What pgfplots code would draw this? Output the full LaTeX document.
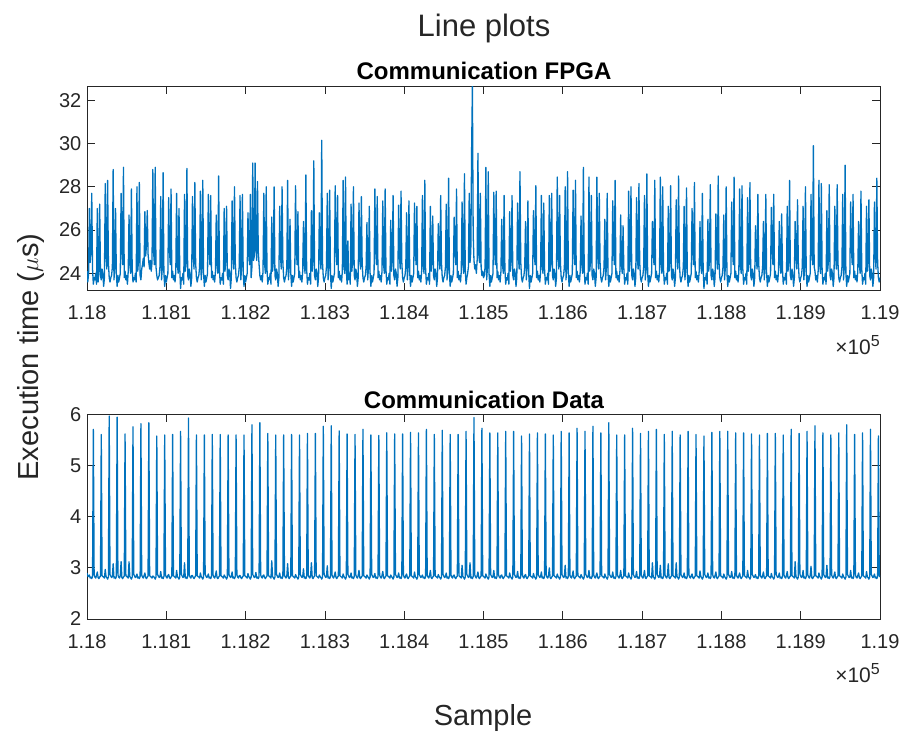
\documentclass[border=0pt]{standalone}
\usepackage{fontspec}
\setmainfont{Liberation Sans}
\usepackage{pgfplots}
\pgfplotsset{compat=1.18}
\usepackage{pgfplotstable}
\definecolor{mblue}{RGB}{0,114,189}
\definecolor{axgray}{RGB}{38,38,38}

% Communication FPGA: one value per sample, samples 118000..119000
\pgfplotstableread[row sep=\\,header=false]{
24.1\\23.6\\24.0\\27.0\\24.5\\25.0\\27.7\\24.2\\23.5\\23.8\\
23.7\\24.0\\23.5\\27.0\\23.6\\24.1\\27.2\\23.9\\23.7\\24.2\\
24.0\\23.4\\23.8\\28.15\\24.8\\24.2\\28.3\\24.5\\23.8\\23.6\\
23.8\\23.9\\24.3\\28.8\\23.7\\24.3\\27.0\\24.0\\23.4\\23.9\\
23.6\\23.8\\24.0\\27.7\\25.1\\24.4\\28.9\\23.8\\24.1\\23.7\\
23.9\\23.5\\24.1\\26.7\\24.4\\24.0\\27.9\\24.2\\23.6\\23.8\\
23.7\\24.0\\23.6\\28.0\\24.1\\24.6\\28.2\\23.9\\23.7\\24.2\\
24.4\\24.7\\24.3\\26.85\\24.8\\25.3\\26.9\\24.9\\24.5\\24.2\\
24.6\\24.1\\24.5\\28.8\\25.0\\24.4\\28.9\\24.3\\23.9\\23.7\\
23.8\\23.9\\24.3\\27.55\\23.7\\24.3\\28.65\\24.0\\23.4\\23.9\\
23.6\\23.8\\24.0\\27.5\\25.1\\24.4\\27.9\\23.8\\24.1\\23.7\\
23.9\\23.6\\24.1\\27.7\\24.4\\24.0\\27.0\\24.2\\23.3\\23.8\\
23.7\\24.0\\23.5\\27.65\\24.1\\24.6\\28.85\\23.9\\23.7\\24.2\\
24.0\\23.4\\23.8\\27.55\\24.8\\24.2\\28.2\\24.5\\23.8\\23.6\\
23.8\\23.9\\24.3\\27.8\\23.7\\24.3\\28.3\\24.0\\23.4\\23.9\\
23.6\\23.8\\24.0\\27.65\\25.1\\24.4\\27.6\\23.8\\24.1\\23.7\\
23.9\\23.6\\24.1\\26.7\\24.4\\24.0\\28.5\\24.2\\23.5\\23.8\\
23.7\\24.0\\23.5\\27.0\\24.1\\24.6\\27.1\\23.9\\23.7\\24.2\\
24.0\\23.3\\23.8\\27.35\\24.8\\24.2\\28.0\\24.5\\23.8\\23.6\\
23.8\\23.9\\24.3\\27.6\\23.7\\24.3\\27.65\\24.0\\23.4\\23.9\\
23.6\\23.8\\24.0\\26.8\\25.1\\24.4\\27.65\\23.8\\24.3\\29.1\\
24.6\\24.8\\29.1\\25.2\\24.6\\28.25\\25.0\\24.4\\23.9\\23.7\\
23.9\\23.6\\24.1\\27.7\\24.4\\24.0\\28.0\\24.2\\23.5\\23.8\\
23.7\\24.0\\23.5\\26.6\\24.1\\24.6\\28.0\\23.9\\23.7\\24.2\\
24.0\\23.4\\23.8\\27.1\\24.8\\24.2\\28.0\\24.5\\23.8\\23.6\\
23.8\\23.9\\24.3\\28.3\\23.7\\24.3\\26.5\\24.0\\23.4\\23.9\\
23.6\\23.8\\24.0\\28.05\\25.1\\24.4\\26.85\\23.8\\24.1\\23.7\\
23.9\\23.6\\24.1\\26.4\\24.4\\24.0\\28.55\\24.2\\23.5\\23.8\\
23.7\\24.0\\23.5\\26.9\\24.1\\24.6\\29.2\\23.9\\23.7\\24.2\\
24.0\\23.4\\23.8\\26.8\\24.8\\24.2\\30.15\\24.5\\23.8\\23.6\\
23.8\\23.9\\24.3\\27.7\\23.7\\24.3\\27.85\\24.0\\23.3\\23.9\\
23.6\\23.8\\24.0\\28.05\\25.1\\24.4\\27.6\\23.8\\24.1\\23.7\\
23.9\\23.6\\24.1\\28.3\\24.4\\24.0\\28.45\\24.2\\23.5\\25.5\\
23.7\\24.0\\23.5\\27.2\\24.1\\24.6\\28.0\\23.9\\23.7\\24.2\\
24.0\\23.4\\23.8\\27.25\\24.8\\24.2\\27.55\\24.5\\23.8\\23.6\\
23.8\\23.9\\24.3\\26.35\\23.7\\24.3\\27.1\\24.0\\23.4\\23.9\\
23.6\\23.8\\24.0\\27.9\\25.1\\24.4\\27.55\\23.8\\24.1\\23.7\\
23.9\\23.6\\24.1\\27.35\\24.4\\24.0\\27.9\\24.2\\23.5\\23.8\\
23.7\\24.0\\23.5\\26.45\\24.1\\24.6\\27.6\\23.9\\23.7\\24.2\\
24.0\\23.4\\23.8\\27.15\\24.8\\24.2\\27.8\\24.5\\23.8\\23.6\\
23.8\\23.9\\24.3\\26.8\\23.7\\24.3\\27.35\\24.0\\23.4\\23.9\\
23.6\\23.8\\24.0\\27.25\\25.1\\24.4\\27.1\\23.8\\24.1\\23.7\\
23.9\\23.6\\24.1\\27.6\\24.4\\24.0\\28.3\\24.2\\23.5\\23.8\\
23.7\\24.0\\23.5\\27.1\\24.1\\24.6\\26.65\\23.9\\23.7\\24.2\\
24.0\\23.4\\23.8\\26.3\\24.8\\24.2\\27.6\\24.5\\23.8\\23.6\\
23.8\\23.9\\24.3\\27.2\\23.7\\24.3\\28.4\\24.0\\23.4\\23.9\\
23.6\\23.8\\24.0\\26.6\\25.1\\24.4\\27.9\\23.8\\24.1\\23.7\\
23.9\\23.6\\24.1\\27.3\\24.4\\24.0\\28.6\\24.2\\23.5\\23.8\\
24.0\\24.3\\27.7\\24.5\\25.0\\29.65\\32.65\\25.8\\24.6\\24.2\\
24.4\\24.0\\24.6\\29.55\\24.9\\24.5\\27.7\\24.3\\23.9\\24.1\\
23.8\\23.9\\24.3\\28.9\\23.7\\24.3\\28.7\\24.0\\23.4\\23.9\\
23.6\\23.8\\24.0\\27.75\\25.1\\24.4\\27.8\\23.8\\24.1\\23.7\\
23.9\\23.6\\24.1\\26.5\\24.4\\24.0\\27.6\\24.2\\23.5\\23.8\\
23.7\\24.0\\23.5\\26.85\\24.1\\24.6\\27.6\\23.9\\23.7\\24.2\\
24.0\\23.4\\23.8\\27.25\\24.8\\24.2\\28.7\\24.5\\23.8\\23.6\\
23.8\\23.9\\24.3\\26.4\\23.7\\24.3\\27.35\\24.0\\23.3\\23.9\\
23.6\\23.8\\24.0\\26.9\\25.1\\24.4\\28.05\\23.8\\24.1\\23.7\\
23.9\\23.6\\24.1\\27.6\\24.4\\24.0\\27.25\\24.2\\23.5\\23.8\\
23.7\\24.0\\23.5\\27.6\\24.1\\24.6\\27.7\\23.9\\23.7\\24.2\\
24.0\\23.4\\23.8\\28.45\\24.8\\24.2\\27.6\\24.5\\23.8\\23.6\\
23.8\\23.9\\24.3\\28.0\\23.7\\24.3\\28.7\\24.0\\23.4\\23.9\\
23.6\\23.8\\24.0\\27.85\\25.1\\24.4\\28.3\\23.8\\24.1\\23.7\\
23.9\\23.6\\24.1\\26.65\\24.4\\24.0\\28.9\\24.2\\23.5\\23.8\\
23.7\\24.0\\23.5\\28.45\\24.1\\24.6\\27.6\\23.9\\23.7\\24.2\\
24.0\\23.4\\23.8\\28.45\\24.8\\24.2\\27.7\\24.5\\23.8\\23.6\\
23.8\\23.9\\24.3\\26.5\\23.7\\24.3\\27.7\\24.0\\23.4\\23.9\\
23.6\\23.8\\24.0\\27.35\\25.1\\24.4\\28.3\\23.8\\24.1\\23.7\\
23.9\\23.6\\24.1\\26.7\\24.4\\24.0\\26.2\\24.2\\23.5\\23.8\\
23.7\\24.0\\23.5\\27.8\\24.1\\24.6\\28.0\\23.9\\23.7\\24.2\\
24.0\\23.4\\23.8\\27.5\\24.8\\24.2\\28.15\\24.5\\23.8\\23.6\\
23.8\\23.9\\24.3\\27.6\\23.7\\24.3\\28.6\\24.0\\23.4\\23.9\\
23.6\\23.8\\24.0\\26.4\\25.1\\24.4\\28.3\\23.8\\24.1\\23.7\\
23.9\\23.6\\24.1\\28.45\\24.4\\24.0\\28.0\\24.2\\23.5\\23.8\\
23.7\\24.0\\23.5\\27.1\\24.1\\24.6\\28.05\\23.9\\23.7\\24.2\\
24.0\\23.4\\23.8\\27.4\\24.8\\24.2\\28.5\\24.5\\23.8\\23.6\\
23.8\\23.9\\24.3\\27.1\\23.7\\24.3\\27.95\\24.0\\23.4\\23.9\\
23.6\\23.8\\24.0\\27.0\\25.1\\24.4\\28.2\\23.8\\24.1\\23.7\\
23.9\\23.6\\24.1\\26.4\\24.4\\24.0\\27.7\\24.2\\23.3\\23.8\\
23.7\\24.0\\23.5\\26.5\\24.1\\24.6\\28.1\\23.9\\23.7\\24.2\\
24.0\\23.4\\23.8\\26.75\\24.8\\24.2\\28.5\\24.5\\23.8\\23.6\\
23.8\\23.9\\24.3\\26.7\\23.7\\24.3\\28.0\\24.0\\23.4\\23.9\\
23.6\\23.8\\24.0\\27.3\\25.1\\24.4\\28.45\\23.8\\24.1\\23.7\\
23.9\\23.6\\24.1\\27.9\\24.4\\24.0\\28.05\\24.2\\23.5\\23.8\\
23.7\\24.0\\23.5\\27.5\\24.1\\24.6\\28.2\\23.9\\23.7\\24.2\\
24.0\\23.4\\23.8\\26.2\\24.8\\24.2\\27.65\\24.5\\23.8\\23.6\\
23.8\\23.9\\24.3\\26.4\\23.7\\24.3\\27.65\\24.0\\23.4\\23.9\\
23.6\\23.8\\24.0\\27.05\\25.1\\24.4\\27.65\\23.8\\24.1\\23.7\\
23.9\\23.6\\24.1\\26.4\\24.4\\24.0\\26.75\\24.2\\23.5\\23.8\\
23.7\\24.0\\23.5\\27.1\\24.1\\24.6\\28.3\\23.9\\23.7\\24.2\\
24.0\\23.4\\23.8\\26.4\\24.8\\24.2\\27.4\\24.5\\23.8\\23.6\\
23.8\\23.9\\24.3\\27.1\\23.7\\24.3\\28.0\\24.0\\23.4\\23.9\\
23.6\\23.8\\24.0\\27.65\\25.1\\24.4\\29.9\\24.3\\24.1\\23.7\\
23.9\\23.6\\24.1\\28.3\\24.4\\24.0\\28.15\\24.2\\23.5\\23.8\\
23.7\\24.0\\23.5\\26.9\\24.1\\24.6\\28.1\\23.9\\23.7\\24.2\\
24.0\\23.4\\23.8\\27.1\\24.8\\24.2\\28.1\\24.5\\23.8\\23.6\\
23.8\\23.9\\24.3\\27.65\\23.7\\24.3\\29.0\\24.0\\23.4\\23.9\\
23.6\\23.8\\24.0\\27.3\\25.1\\24.4\\27.65\\23.8\\24.1\\23.7\\
23.9\\23.6\\24.1\\26.4\\24.4\\24.0\\27.8\\24.2\\23.5\\23.8\\
23.7\\24.0\\23.5\\27.1\\24.1\\24.6\\27.4\\23.9\\23.7\\24.2\\
24.0\\23.4\\23.8\\27.3\\24.8\\24.2\\28.4\\24.5\\23.8\\23.6\\
23.8\\
}\fpgadata

% Communication Data: one value per sample, samples 118000..119000
\pgfplotstableread[row sep=\\,header=false]{
2.90\\2.84\\2.83\\2.86\\2.80\\2.82\\2.79\\2.83\\5.71\\2.86\\
2.82\\2.80\\2.85\\2.92\\2.81\\2.79\\2.82\\2.84\\5.61\\2.85\\
2.83\\2.82\\2.80\\2.97\\2.83\\2.81\\2.78\\2.82\\5.97\\2.87\\
2.84\\2.81\\2.83\\3.08\\2.80\\2.82\\2.79\\2.83\\5.95\\2.86\\
2.82\\2.80\\2.85\\3.12\\2.81\\2.79\\2.82\\2.84\\5.62\\2.85\\
2.83\\2.82\\2.80\\3.12\\2.83\\2.81\\2.78\\2.82\\5.76\\2.87\\
2.84\\2.81\\2.83\\2.88\\2.80\\2.82\\2.79\\2.83\\5.82\\2.86\\
2.82\\2.80\\2.85\\2.90\\2.81\\2.79\\2.82\\2.84\\5.84\\2.85\\
2.83\\2.82\\2.80\\2.84\\2.83\\2.81\\2.78\\2.82\\5.58\\2.87\\
2.84\\2.81\\2.83\\2.93\\2.80\\2.82\\2.79\\2.83\\5.60\\2.86\\
2.82\\2.80\\2.85\\2.87\\2.81\\2.79\\2.82\\2.84\\5.61\\2.85\\
2.83\\2.82\\2.80\\2.95\\2.83\\2.81\\2.78\\2.82\\5.67\\2.87\\
2.84\\2.81\\2.83\\3.10\\2.80\\2.82\\2.79\\2.83\\5.93\\2.86\\
2.82\\2.80\\2.85\\2.85\\2.81\\2.79\\2.82\\2.84\\5.60\\2.85\\
2.83\\2.82\\2.80\\2.90\\2.83\\2.81\\2.78\\2.82\\5.60\\2.87\\
2.84\\2.81\\2.83\\2.88\\2.80\\2.82\\2.79\\2.83\\5.61\\2.86\\
2.82\\2.80\\2.85\\2.94\\2.81\\2.79\\2.82\\2.84\\5.61\\2.85\\
2.83\\2.82\\2.80\\2.86\\2.83\\2.81\\2.78\\2.82\\5.60\\2.87\\
2.84\\2.81\\2.83\\2.92\\2.80\\2.82\\2.79\\2.83\\5.60\\2.86\\
2.82\\2.80\\2.85\\2.85\\2.81\\2.79\\2.82\\2.84\\5.60\\2.85\\
2.83\\2.82\\2.80\\2.89\\2.83\\2.81\\2.78\\2.82\\5.80\\2.87\\
2.84\\2.81\\2.83\\2.91\\2.80\\2.82\\2.79\\2.83\\5.84\\2.86\\
2.82\\2.80\\2.85\\2.86\\2.81\\2.79\\2.82\\2.84\\5.63\\2.85\\
2.83\\2.82\\2.80\\3.14\\2.83\\2.81\\2.78\\2.82\\5.60\\2.87\\
2.84\\2.81\\2.83\\2.90\\2.80\\2.82\\2.79\\2.83\\5.60\\2.86\\
2.82\\2.80\\2.85\\3.08\\2.81\\2.79\\2.82\\2.84\\5.61\\2.85\\
2.83\\2.82\\2.80\\2.87\\2.83\\2.81\\2.78\\2.82\\5.60\\2.87\\
2.84\\2.81\\2.83\\2.98\\2.80\\2.82\\2.79\\2.83\\5.63\\2.86\\
2.82\\2.80\\2.85\\3.10\\2.81\\2.79\\2.82\\2.84\\5.63\\2.85\\
2.83\\2.82\\2.80\\2.86\\2.83\\2.81\\2.78\\2.82\\5.77\\2.87\\
2.84\\2.81\\2.83\\3.04\\2.80\\2.82\\2.79\\2.83\\5.78\\2.86\\
2.82\\2.80\\2.85\\2.92\\2.81\\2.79\\2.82\\2.84\\5.68\\2.85\\
2.83\\2.82\\2.80\\2.88\\2.83\\2.81\\2.78\\2.82\\5.62\\2.87\\
2.84\\2.81\\2.83\\2.90\\2.80\\2.82\\2.79\\2.83\\5.61\\2.86\\
2.82\\2.80\\2.85\\2.95\\2.81\\2.79\\2.82\\2.84\\5.71\\2.85\\
2.83\\2.82\\2.80\\2.86\\2.83\\2.81\\2.78\\2.82\\5.60\\2.87\\
2.84\\2.81\\2.83\\2.89\\2.80\\2.82\\2.79\\2.83\\5.59\\2.86\\
2.82\\2.80\\2.85\\2.93\\2.81\\2.79\\2.82\\2.84\\5.64\\2.85\\
2.83\\2.82\\2.80\\2.86\\2.83\\2.81\\2.78\\2.82\\5.62\\2.87\\
2.84\\2.81\\2.83\\2.90\\2.80\\2.82\\2.79\\2.83\\5.62\\2.86\\
2.82\\2.80\\2.85\\2.88\\2.81\\2.79\\2.82\\2.84\\5.65\\2.85\\
2.83\\2.82\\2.80\\2.92\\2.83\\2.81\\2.78\\2.82\\5.64\\2.87\\
2.84\\2.81\\2.83\\2.86\\2.80\\2.82\\2.79\\2.83\\5.71\\2.86\\
2.82\\2.80\\2.85\\2.95\\2.81\\2.79\\2.82\\2.84\\5.61\\2.85\\
2.83\\2.82\\2.80\\2.87\\2.83\\2.81\\2.78\\2.82\\5.69\\2.87\\
2.84\\2.81\\2.83\\2.90\\2.80\\2.82\\2.79\\2.83\\5.61\\2.86\\
2.82\\2.80\\2.85\\2.86\\2.81\\2.79\\2.82\\2.84\\5.61\\2.85\\
2.83\\2.82\\2.80\\3.05\\2.83\\2.81\\2.78\\2.82\\5.67\\2.87\\
2.84\\2.81\\2.83\\3.10\\2.80\\2.82\\2.79\\2.83\\5.94\\2.86\\
2.82\\2.80\\2.85\\2.92\\2.81\\2.79\\2.82\\2.84\\5.73\\2.85\\
2.83\\2.82\\2.80\\2.88\\2.83\\2.81\\2.78\\2.82\\5.64\\2.87\\
2.84\\2.81\\2.83\\2.95\\2.80\\2.82\\2.79\\2.83\\5.64\\2.86\\
2.82\\2.80\\2.85\\2.86\\2.81\\2.79\\2.82\\2.84\\5.67\\2.85\\
2.83\\2.82\\2.80\\2.90\\2.83\\2.81\\2.78\\2.82\\5.67\\2.87\\
2.84\\2.81\\2.83\\2.93\\2.80\\2.82\\2.79\\2.83\\5.58\\2.86\\
2.82\\2.80\\2.85\\2.87\\2.81\\2.79\\2.82\\2.84\\5.62\\2.85\\
2.83\\2.82\\2.80\\2.89\\2.83\\2.81\\2.78\\2.82\\5.64\\2.87\\
2.84\\2.81\\2.83\\2.92\\2.80\\2.82\\2.79\\2.83\\5.62\\2.86\\
2.82\\2.80\\2.85\\3.00\\2.81\\2.79\\2.82\\2.84\\5.60\\2.85\\
2.83\\2.82\\2.80\\2.88\\2.83\\2.81\\2.78\\2.82\\5.67\\2.87\\
2.84\\2.81\\2.83\\3.05\\2.80\\2.82\\2.79\\2.83\\5.64\\2.86\\
2.82\\2.80\\2.85\\2.94\\2.81\\2.79\\2.82\\2.84\\5.73\\2.85\\
2.83\\2.82\\2.80\\2.87\\2.83\\2.81\\2.78\\2.82\\5.67\\2.87\\
2.84\\2.81\\2.83\\2.95\\2.80\\2.82\\2.79\\2.83\\5.77\\2.86\\
2.82\\2.80\\2.85\\2.90\\2.81\\2.79\\2.82\\2.84\\5.64\\2.85\\
2.83\\2.82\\2.80\\2.88\\2.83\\2.81\\2.78\\2.82\\5.84\\2.87\\
2.84\\2.81\\2.83\\2.92\\2.80\\2.82\\2.79\\2.83\\5.60\\2.86\\
2.82\\2.80\\2.85\\2.95\\2.81\\2.79\\2.82\\2.84\\5.60\\2.85\\
2.83\\2.82\\2.80\\2.90\\2.83\\2.81\\2.78\\2.82\\5.73\\2.87\\
2.84\\2.81\\2.83\\2.93\\2.80\\2.82\\2.79\\2.83\\5.63\\2.86\\
2.82\\2.80\\2.85\\2.95\\2.81\\2.79\\2.82\\2.84\\5.67\\2.85\\
2.83\\2.82\\2.80\\3.10\\2.83\\2.81\\2.78\\2.82\\5.71\\2.87\\
2.84\\2.81\\2.83\\3.05\\2.80\\2.82\\2.79\\2.83\\5.61\\2.86\\
2.82\\2.80\\2.85\\3.08\\2.81\\2.79\\2.82\\2.84\\5.67\\2.85\\
2.83\\2.82\\2.80\\3.10\\2.83\\2.81\\2.78\\2.82\\5.60\\2.87\\
2.84\\2.81\\2.83\\2.90\\2.80\\2.82\\2.79\\2.83\\5.67\\2.86\\
2.82\\2.80\\2.85\\2.88\\2.81\\2.79\\2.82\\2.84\\5.61\\2.85\\
2.83\\2.82\\2.80\\2.94\\2.83\\2.81\\2.78\\2.82\\5.58\\2.87\\
2.84\\2.81\\2.83\\2.90\\2.80\\2.82\\2.79\\2.83\\5.65\\2.86\\
2.82\\2.80\\2.85\\2.92\\2.81\\2.79\\2.82\\2.84\\5.67\\2.85\\
2.83\\2.82\\2.80\\2.88\\2.83\\2.81\\2.78\\2.82\\5.67\\2.87\\
2.84\\2.81\\2.83\\2.93\\2.80\\2.82\\2.79\\2.83\\5.64\\2.86\\
2.82\\2.80\\2.85\\2.90\\2.81\\2.79\\2.82\\2.84\\5.64\\2.85\\
2.83\\2.82\\2.80\\2.95\\2.83\\2.81\\2.78\\2.82\\5.62\\2.87\\
2.84\\2.81\\2.83\\2.87\\2.80\\2.82\\2.79\\2.83\\5.60\\2.86\\
2.82\\2.80\\2.85\\2.92\\2.81\\2.79\\2.82\\2.84\\5.63\\2.85\\
2.83\\2.82\\2.80\\2.89\\2.83\\2.81\\2.78\\2.82\\5.63\\2.87\\
2.84\\2.81\\2.83\\2.90\\2.80\\2.82\\2.79\\2.83\\5.60\\2.86\\
2.82\\2.80\\2.85\\2.93\\2.81\\2.79\\2.82\\2.84\\5.71\\2.85\\
2.83\\2.82\\2.80\\3.12\\2.83\\2.81\\2.78\\2.82\\5.63\\2.87\\
2.84\\2.81\\2.83\\2.95\\2.80\\2.82\\2.79\\2.83\\5.67\\2.86\\
2.82\\2.80\\2.85\\3.03\\2.81\\2.79\\2.82\\2.84\\5.78\\2.85\\
2.83\\2.82\\2.80\\2.90\\2.83\\2.81\\2.78\\2.82\\5.64\\2.87\\
2.84\\2.81\\2.83\\3.05\\2.80\\2.82\\2.79\\2.83\\5.60\\2.86\\
2.82\\2.80\\2.85\\2.92\\2.81\\2.79\\2.82\\2.84\\5.64\\2.85\\
2.83\\2.82\\2.80\\2.88\\2.83\\2.81\\2.78\\2.82\\5.80\\2.87\\
2.84\\2.81\\2.83\\2.95\\2.80\\2.82\\2.79\\2.83\\5.61\\2.86\\
2.82\\2.80\\2.85\\2.90\\2.81\\2.79\\2.82\\2.84\\5.64\\2.85\\
2.83\\2.82\\2.80\\2.93\\2.83\\2.81\\2.78\\2.82\\5.71\\2.87\\
2.84\\2.81\\2.83\\2.88\\2.80\\2.82\\2.79\\2.83\\5.58\\2.86\\
2.82\\
}\commdata

\pgfplotsset{
  matax/.style={
    scale only axis, width=793pt, height=204.5pt,
    xmin=118000, xmax=119000,
    xtick={118000,118100,118200,118300,118400,118500,118600,118700,118800,118900,119000},
    xticklabels={1.18,1.181,1.182,1.183,1.184,1.185,1.186,1.187,1.188,1.189,1.19},
    scaled x ticks=false, scaled y ticks=false,
    axis line style={draw=axgray, line width=0.8pt},
    tick style={draw=axgray, line width=0.8pt},
    major tick length=8pt, tick align=inside,
    tick label style={font=\fontsize{20}{24}\selectfont, text=axgray, inner sep=0pt},
    xticklabel style={anchor=north, yshift=-15pt},
    yticklabel style={anchor=east, xshift=-5.5pt},
  },
  matline/.style={color=mblue, line width=1.3pt, mark=none, line join=round},
}

\begin{document}
\begin{tikzpicture}[x=1pt,y=1pt]
\useasboundingbox (0,0) rectangle (903,733);

\begin{axis}[matax, at={(87pt,442.3pt)}, anchor=south west,
  ymin=23.2, ymax=32.65,
  ytick={24,26,28,30,32}, yticklabels={24,26,28,30,32}]
\addplot[matline] table[x expr=\coordindex+118000, y index=0] {\fpgadata};
\end{axis}

\begin{axis}[matax, at={(87pt,114pt)}, anchor=south west,
  ymin=2, ymax=6,
  ytick={2,3,4,5,6}, yticklabels={2,3,4,5,6}]
\addplot[matline] table[x expr=\coordindex+118000, y index=0] {\commdata};
\end{axis}

\node[anchor=base, font=\fontsize{31}{36}\selectfont, text=axgray] at (484,696) {Line plots};
\node[anchor=base, font=\bfseries\fontsize{24}{28}\selectfont, text=black] at (484,653) {Communication FPGA};
\node[anchor=base, font=\bfseries\fontsize{24}{28}\selectfont, text=black] at (484,324) {Communication Data};
\node[rotate=90, anchor=base, font=\fontsize{29}{34}\selectfont, text=axgray] at (38,376) {Execution time ($\mu$s)};
\node[anchor=base, font=\fontsize{29}{34}\selectfont, text=axgray] at (483,7) {Sample};
\node[anchor=base east, inner sep=0pt, font=\fontsize{21}{24}\selectfont, text=axgray] at (880,378.7) {×10\raisebox{8pt}{\fontsize{16}{19}\selectfont 5}};
\node[anchor=base east, inner sep=0pt, font=\fontsize{21}{24}\selectfont, text=axgray] at (880,50) {×10\raisebox{8pt}{\fontsize{16}{19}\selectfont 5}};
\end{tikzpicture}
\end{document}
